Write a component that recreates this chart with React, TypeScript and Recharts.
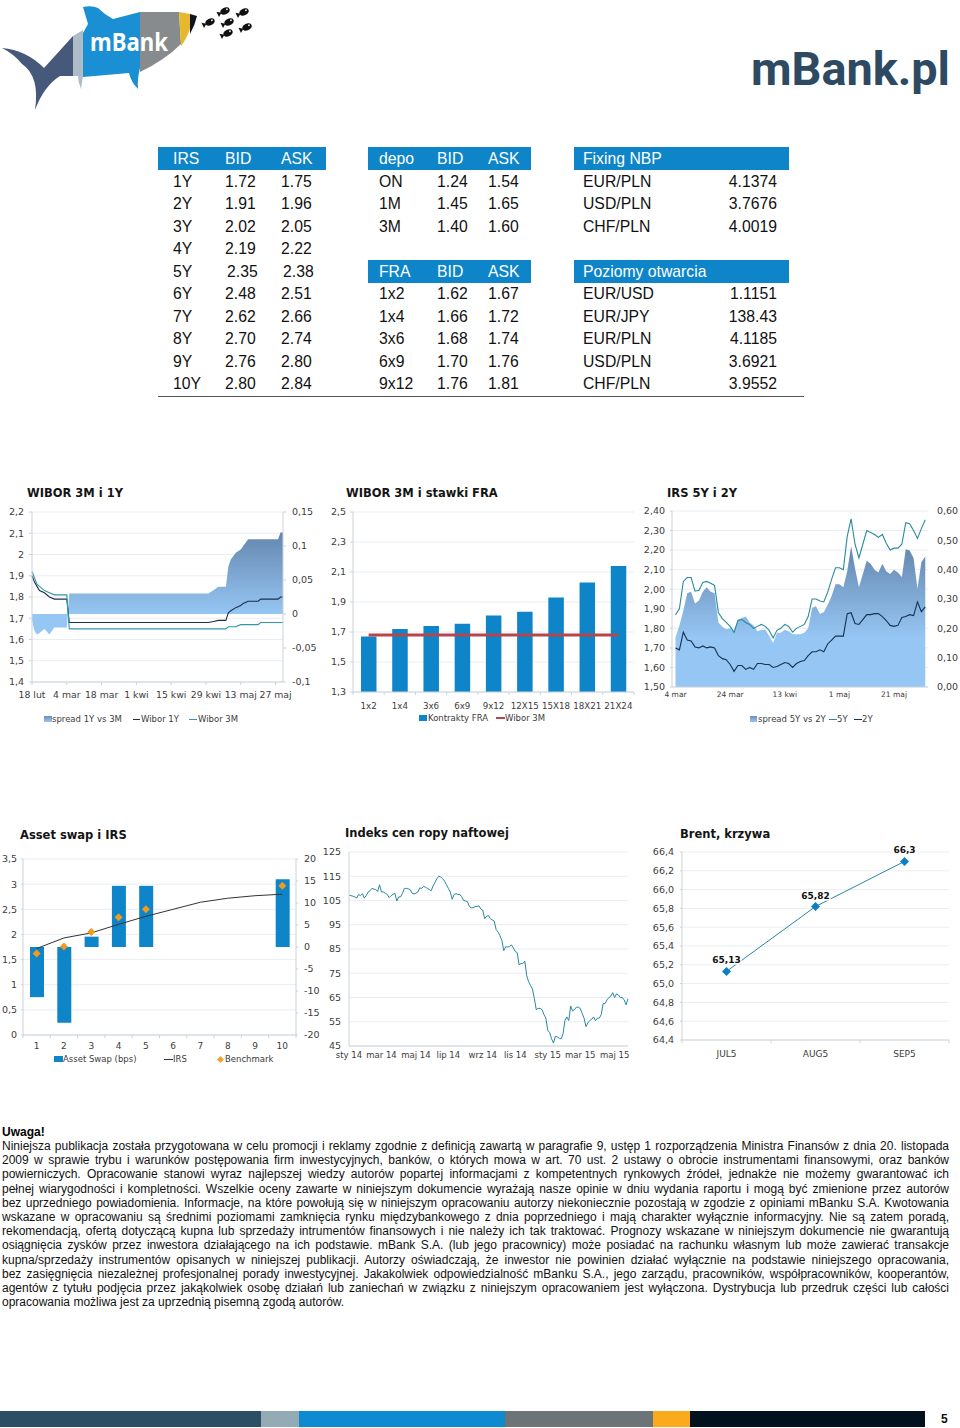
import React from "react";
import {
  ComposedChart, Area, Bar, Line, LabelList, XAxis, YAxis, CartesianGrid,
} from "recharts";

/* ---------- tables ---------- */
const irsHeader = ["IRS", "BID", "ASK"];
const irsRows = [
  ["1Y", "1.72", "1.75"], ["2Y", "1.91", "1.96"], ["3Y", "2.02", "2.05"], ["4Y", "2.19", "2.22"],
  ["5Y", "2.35", "2.38"], ["6Y", "2.48", "2.51"], ["7Y", "2.62", "2.66"], ["8Y", "2.70", "2.74"],
  ["9Y", "2.76", "2.80"], ["10Y", "2.80", "2.84"],
];
const depoHeader = ["depo", "BID", "ASK"];
const depoRows = [["ON", "1.24", "1.54"], ["1M", "1.45", "1.65"], ["3M", "1.40", "1.60"]];
const fraHeader = ["FRA", "BID", "ASK"];
const fraRows = [
  ["1x2", "1.62", "1.67"], ["1x4", "1.66", "1.72"], ["3x6", "1.68", "1.74"],
  ["6x9", "1.70", "1.76"], ["9x12", "1.76", "1.81"],
];
const fixingRows = [["EUR/PLN", "4.1374"], ["USD/PLN", "3.7676"], ["CHF/PLN", "4.0019"]];
const openRows = [
  ["EUR/USD", "1.1151"], ["EUR/JPY", "138.43"], ["EUR/PLN", "4.1185"],
  ["USD/PLN", "3.6921"], ["CHF/PLN", "3.9552"],
];

/* ---------- chart 1: WIBOR 3M i 1Y ---------- */
const w1Days = [0, 1, 2, 3, 5, 7, 9, 14, 15, 71, 73, 75, 78, 79, 80, 82, 84, 85, 87, 91, 92, 99, 100, 101];
const w1Y = [1.9, 1.87, 1.85, 1.83, 1.82, 1.8, 1.79, 1.79, 1.68, 1.68, 1.685, 1.69, 1.69, 1.725, 1.735, 1.75, 1.76, 1.77, 1.78, 1.78, 1.79, 1.79, 1.8, 1.8];
const w3M = [1.92, 1.89, 1.86, 1.85, 1.83, 1.82, 1.81, 1.81, 1.65, 1.65, 1.65, 1.65, 1.65, 1.66, 1.66, 1.66, 1.67, 1.67, 1.67, 1.67, 1.68, 1.68, 1.68, 1.68];
const wSpread = [-0.01, -0.025, -0.03, -0.028, -0.022, -0.03, -0.02, -0.02, 0.03, 0.03, 0.035, 0.04, 0.04, 0.07, 0.08, 0.09, 0.095, 0.1, 0.11, 0.11, 0.11, 0.11, 0.12, 0.12];
const w1XTicks = [0, 14, 28, 42, 56, 70, 84, 98];
const w1XLabels = ["18 lut", "4 mar", "18 mar", "1 kwi", "15 kwi", "29 kwi", "13 maj", "27 maj"];
const w1LeftTicks = [1.4, 1.5, 1.6, 1.7, 1.8, 1.9, 2, 2.1, 2.2];
const w1RightTicks = [-0.1, -0.05, 0, 0.05, 0.1, 0.15];

/* ---------- chart 2: WIBOR 3M i stawki FRA ---------- */
const fraCats = ["1x2", "1x4", "3x6", "6x9", "9x12", "12X15", "15X18", "18X21", "21X24"];
const fraVals = [1.67, 1.72, 1.74, 1.755, 1.81, 1.835, 1.93, 2.03, 2.14];
const fraWibor = [1.68, 1.68, 1.68, 1.68, 1.68, 1.68, 1.68, 1.68, 1.68];
const fraTicks = [1.3, 1.5, 1.7, 1.9, 2.1, 2.3, 2.5];

/* ---------- chart 3: IRS 5Y i 2Y ---------- */
const irs5Y = [1.87, 1.9, 2.04, 2.06, 2.06, 1.99, 1.995, 2.035, 2.04, 2.03, 2.02, 1.88, 1.85, 1.83, 1.81, 1.78, 1.84, 1.845, 1.83, 1.82, 1.8, 1.81, 1.82, 1.81, 1.79, 1.75, 1.79, 1.8, 1.82, 1.81, 1.78, 1.8, 1.81, 1.82, 1.86, 1.95, 1.95, 1.94, 1.935, 1.985, 2.05, 2.11, 2.11, 2.1, 2.27, 2.36, 2.23, 2.16, 2.23, 2.3, 2.29, 2.28, 2.265, 2.28, 2.235, 2.2, 2.21, 2.21, 2.23, 2.34, 2.335, 2.3, 2.26, 2.31, 2.355];
const irs2Y = [1.7, 1.69, 1.78, 1.74, 1.735, 1.705, 1.7, 1.71, 1.7, 1.705, 1.7, 1.66, 1.645, 1.64, 1.615, 1.58, 1.61, 1.61, 1.59, 1.6, 1.59, 1.62, 1.62, 1.615, 1.615, 1.6, 1.605, 1.615, 1.625, 1.62, 1.6, 1.62, 1.63, 1.635, 1.66, 1.68, 1.68, 1.69, 1.68, 1.72, 1.74, 1.76, 1.76, 1.76, 1.875, 1.88, 1.825, 1.82, 1.845, 1.87, 1.87, 1.875, 1.875, 1.86, 1.84, 1.815, 1.81, 1.815, 1.855, 1.86, 1.87, 1.865, 1.935, 1.885, 1.91];
const irsSpread = [0.17, 0.21, 0.26, 0.32, 0.325, 0.285, 0.295, 0.325, 0.34, 0.325, 0.32, 0.22, 0.205, 0.197, 0.2, 0.19, 0.23, 0.235, 0.24, 0.22, 0.21, 0.19, 0.195, 0.195, 0.175, 0.15, 0.185, 0.185, 0.195, 0.19, 0.18, 0.18, 0.18, 0.185, 0.2, 0.27, 0.275, 0.25, 0.255, 0.28, 0.31, 0.35, 0.35, 0.34, 0.395, 0.48, 0.405, 0.34, 0.385, 0.43, 0.42, 0.4, 0.39, 0.42, 0.395, 0.385, 0.4, 0.39, 0.375, 0.47, 0.465, 0.44, 0.335, 0.425, 0.445];
const irsXTicks = [0, 14, 28, 42, 56];
const irsXLabels = ["4 mar", "24 mar", "13 kwi", "1 maj", "21 maj"];
const irsLeftTicks = [1.5, 1.6, 1.7, 1.8, 1.9, 2.0, 2.1, 2.2, 2.3, 2.4];
const irsRightTicks = [0, 0.1, 0.2, 0.3, 0.4, 0.5, 0.6];

/* ---------- chart 4: Asset swap i IRS ---------- */
const asCats = ["1", "2", "3", "4", "5", "6", "7", "8", "9", "10"];
const asSwap = [-11.4, -17.2, 2.35, 13.9, 13.9, null, null, null, null, 15.4];
const asIrs = [1.72, 1.93, 2.03, 2.2, 2.36, 2.5, 2.64, 2.72, 2.77, 2.8];
const asBench = [1.62, 1.76, 2.05, 2.34, 2.5, null, null, null, null, 2.97];
const asLeftTicks = [0, 0.5, 1, 1.5, 2, 2.5, 3, 3.5];
const asRightTicks = [-20, -15, -10, -5, 0, 5, 10, 15, 20];

/* ---------- chart 5: Indeks cen ropy naftowej ---------- */
const oil = [107.3, 107, 106.8, 106.5, 106, 107.5, 107, 107.8, 106, 107, 108.5, 109, 110, 109.7, 109.5, 108.8, 111.5, 108.5, 108.5, 108, 107.5, 106.2, 107, 107.5, 108, 104.8, 106.5, 106.5, 108, 110, 110, 109.8, 109.5, 108, 107.7, 108, 108.5, 110.2, 110, 110.8, 110.5, 110, 109.5, 109, 111, 112.5, 114, 115, 114.7, 114, 113, 111.5, 110, 108.5, 105.5, 107.5, 107.8, 107.5, 107.5, 106.5, 105, 104.8, 104.5, 102.5, 102, 102, 102.5, 102.5, 102.8, 101.5, 101, 97.5, 98.5, 98.8, 97.5, 97, 96.5, 93, 92, 90.5, 88.5, 84.3, 86, 85.8, 86, 86.7, 85.5, 84, 83.5, 78.5, 79, 79, 80, 74, 71.5, 70, 68.5, 64.5, 60, 60.5, 60.5, 60, 58, 56.5, 51.5, 50.5, 48, 46.2, 49, 48.8, 48.2, 48, 50, 55.5, 57, 55.5, 61.5, 59.5, 60, 61, 61, 60.5, 58.5, 56.5, 53, 54.5, 55.5, 56, 57, 55.5, 56.5, 56.5, 58, 62.5, 62.5, 64, 65, 65.5, 67, 65, 66.5, 66, 65, 65, 64, 62, 64.5];
const oilXTicks = [0, 17, 35, 52, 70, 87, 104, 121, 139];
const oilXLabels = ["sty 14", "mar 14", "maj 14", "lip 14", "wrz 14", "lis 14", "sty 15", "mar 15", "maj 15"];
const oilYTicks = [45, 55, 65, 75, 85, 95, 105, 115, 125];

/* ---------- chart 6: Brent, krzywa ---------- */
const brentCats = ["JUL5", "AUG5", "SEP5"];
const brentVals = [65.13, 65.82, 66.3];
const brentTicks = [64.4, 64.6, 64.8, 65.0, 65.2, 65.4, 65.6, 65.8, 66.0, 66.2, 66.4];

/* ---------- text ---------- */
const disclaimerLines = [
  "Niniejsza publikacja została przygotowana w celu promocji i reklamy zgodnie z definicją zawartą w paragrafie 9, ustęp 1 rozporządzenia Ministra Finansów z dnia 20. listopada",
  "2009 w sprawie trybu i warunków postępowania firm inwestycyjnych, banków, o których mowa w art. 70 ust. 2 ustawy o obrocie instrumentami finansowymi, oraz banków",
  "powierniczych. Opracowanie stanowi wyraz najlepszej wiedzy autorów popartej informacjami z kompetentnych rynkowych źródeł, jednakże nie możemy gwarantować ich",
  "pełnej wiarygodności i kompletności. Wszelkie oceny zawarte w niniejszym dokumencie wyrażają nasze opinie w dniu wydania raportu i mogą być zmienione przez autorów",
  "bez uprzedniego powiadomienia. Informacje, na które powołują się w niniejszym opracowaniu autorzy niekoniecznie pozostają w zgodzie z opiniami mBanku S.A. Kwotowania",
  "wskazane w opracowaniu są średnimi poziomami zamknięcia rynku międzybankowego z dnia poprzedniego i mają charakter wyłącznie informacyjny. Nie są zatem poradą,",
  "rekomendacją, ofertą dotyczącą kupna lub sprzedaży intrumentów finansowych i nie należy ich tak traktować. Prognozy wskazane w niniejszym dokumencie nie gwarantują",
  "osiągnięcia zysków przez inwestora działającego na ich podstawie. mBank S.A. (lub jego pracownicy) może posiadać na rachunku własnym lub może zawierać transakcje",
  "kupna/sprzedaży instrumentów opisanych w niniejszej publikacji. Autorzy oświadczają, że inwestor nie powinien działać wyłącznie na podstawie niniejszego opracowania,",
  "bez zasięgnięcia niezależnej profesjonalnej porady inwestycyjnej. Jakakolwiek odpowiedzialność mBanku S.A., jego zarządu, pracowników, współpracowników, kooperantów,",
  "agentów z tytułu podjęcia przez jakąkolwiek osobę działań lub zaniechań w związku z niniejszym opracowaniem jest wyłączona. Dystrybucja lub przedruk części lub całości",
  "opracowania możliwa jest za uprzednią pisemną zgodą autorów.",
];
const footerSegments = [
  ["#2c4f66", 261], ["#92abb4", 38], ["#0d8ad0", 206], ["#6d7478", 148], ["#fba91d", 37], ["#02111d", 235],
];

/* ---------- helpers ---------- */
const VERDANA = "'DejaVu Sans', sans-serif";
const ARIAL = "'Liberation Sans', Arial, sans-serif";
const BLUE = "#0d85c8";
const GRID = "#e9eef3";
const AXIS = "#cbd3da";
const TICK = { fontSize: 9.5, fill: "#3c3c3c", fontFamily: VERDANA };
const comma = (v: number, d?: number) => (d === undefined ? String(v) : v.toFixed(d)).replace(".", ",");

const abs = (left: number, top: number, extra: React.CSSProperties = {}): React.CSSProperties => ({
  position: "absolute", left, top, ...extra,
});

function Cell({ x, y, text, color = "#111", right }: { x: number; y: number; text: string; color?: string; right?: boolean }) {
  const style = abs(right ? x - 100 : x, y - 11, {
    width: right ? 100 : undefined, textAlign: right ? "right" : "left", lineHeight: "22px",
    fontFamily: ARIAL, fontSize: 15.75, color, whiteSpace: "nowrap",
  });
  return <div style={style}>{text}</div>;
}

const rowY = (i: number) => 182 + 22.45 * i;

function Band({ x, w, y, h = 23 }: { x: number; w: number; y: number; h?: number }) {
  return <div style={abs(x, y, { width: w, height: h, background: BLUE })} />;
}

function Title({ x, y, text }: { x: number; y: number; text: string }) {
  return (
    <div style={abs(x, y - 8, { fontFamily: VERDANA, fontWeight: 700, fontSize: 11.5, lineHeight: "16px", color: "#141414", whiteSpace: "nowrap" })}>
      {text}
    </div>
  );
}

type LegendItem = { kind: "box" | "line" | "diamond"; color: string; x0: number; x1: number; text: string; tx: number; thick?: boolean; grad?: boolean };

function LegendRow({ y, items }: { y: number; items: LegendItem[] }) {
  return (
    <>
      {items.map((it) => (
        <React.Fragment key={it.text}>
          {it.kind === "box" && (
            <div style={abs(it.x0, y - 3, { width: it.x1 - it.x0, height: 6, background: it.grad ? "linear-gradient(#6c8fb8,#96c6f4)" : it.color })} />
          )}
          {it.kind === "line" && (
            <div style={abs(it.x0, y - (it.thick ? 1 : 0.5), { width: it.x1 - it.x0, height: it.thick ? 2 : 1, background: it.color })} />
          )}
          {it.kind === "diamond" && (
            <div style={abs(it.x0, y - 2.5, { width: 5, height: 5, background: it.color, transform: "rotate(45deg)" })} />
          )}
          <div style={abs(it.tx, y - 7, { fontFamily: VERDANA, fontSize: 8.5, lineHeight: "14px", color: "#3c3c3c", whiteSpace: "nowrap" })}>{it.text}</div>
        </React.Fragment>
      ))}
    </>
  );
}

/* category tick with its tick mark on the boundary between two categories */
function boundaryTick(band: number, fontSize: number, labelGap: number) {
  return (p: any) => (
    <g>
      <line x1={p.x - band / 2} x2={p.x - band / 2} y1={p.y} y2={p.y + 3} stroke={AXIS} />
      {p.index === p.visibleTicksCount - 1 && <line x1={p.x + band / 2} x2={p.x + band / 2} y1={p.y} y2={p.y + 3} stroke={AXIS} />}
      <text x={p.x} y={p.y + labelGap} textAnchor="middle" fontSize={fontSize} fill="#3c3c3c" fontFamily={VERDANA}>
        {p.payload.value}
      </text>
    </g>
  );
}

const Diamond = (size: number, fill: string) => (p: any) => {
  if (p.cy == null || p.value == null) return <g key={p.key} />;
  const { cx, cy } = p;
  return <path key={p.key} d={`M${cx} ${cy - size}L${cx + size} ${cy}L${cx} ${cy + size}L${cx - size} ${cy}Z`} fill={fill} />;
};

function Grad({ id, mid }: { id: string; mid: number }) {
  return (
    <defs>
      <linearGradient id={id} x1="0" y1="0" x2="0" y2="1">
        <stop offset="0%" stopColor="#6487ae" />
        <stop offset={`${mid}%`} stopColor="#96c6f4" />
        <stop offset="100%" stopColor="#96c6f4" />
      </linearGradient>
    </defs>
  );
}

/* ---------- charts ---------- */
function ChartWibor() {
  const data = w1Days.map((d, i) => ({ d, spread: wSpread[i], y1: w1Y[i], m3: w3M[i] }));
  return (
    <div style={abs(0, 500)}>
      <ComposedChart width={320} height={205} data={data} margin={{ top: 12, right: 0, bottom: 0, left: 0 }}>
        <Grad id="g1" mid={80} />
        <CartesianGrid vertical={false} stroke={GRID} yAxisId="l" />
        <XAxis dataKey="d" type="number" domain={[0, 101]} ticks={w1XTicks} interval={0} height={23} tick={{ ...TICK, fontSize: 9.3 }}
          tickFormatter={(v: number) => w1XLabels[w1XTicks.indexOf(v)]} stroke={AXIS} tickSize={3} tickMargin={6} />
        <YAxis yAxisId="l" width={32} domain={[1.4, 2.2]} ticks={w1LeftTicks} interval={0} tick={TICK} stroke={AXIS} tickSize={3} tickMargin={5}
          tickFormatter={(v: number) => comma(v)} />
        <YAxis yAxisId="r" orientation="right" width={37} domain={[-0.1, 0.15]} ticks={w1RightTicks} interval={0} tick={TICK} stroke={AXIS} tickSize={3} tickMargin={6}
          tickFormatter={(v: number) => comma(v)} />
        <Area yAxisId="r" dataKey="spread" type="linear" fill="url(#g1)" fillOpacity={1} stroke="none" isAnimationActive={false} />
        <Line yAxisId="l" dataKey="y1" type="linear" stroke="#1d2f45" strokeWidth={1.1} dot={false} isAnimationActive={false} />
        <Line yAxisId="l" dataKey="m3" type="linear" stroke="#2f97a8" strokeWidth={1.1} dot={false} isAnimationActive={false} />
      </ComposedChart>
    </div>
  );
}

function ChartFra() {
  const data = fraCats.map((c, i) => ({ c, v: fraVals[i], w: fraWibor[i] }));
  return (
    <div style={abs(325, 500)}>
      <ComposedChart width={315} height={220} data={data} margin={{ top: 12, right: 6, bottom: 0, left: 0 }}>
        <CartesianGrid vertical={false} stroke={GRID} />
        <XAxis dataKey="c" interval={0} height={28} stroke={AXIS} tickLine={false} tickSize={0} tickMargin={0} tick={boundaryTick(31.2, 8.7, 16.5)} />
        <YAxis width={28} domain={[1.3, 2.5]} ticks={fraTicks} interval={0} tick={TICK} stroke={AXIS} tickSize={3} tickMargin={4}
          tickFormatter={(v: number) => comma(v)} />
        <Bar dataKey="v" fill={BLUE} barSize={15.5} isAnimationActive={false} />
        <Line dataKey="w" stroke="#b5474b" strokeWidth={3} dot={false} isAnimationActive={false} />
      </ComposedChart>
    </div>
  );
}

function ChartIrs() {
  const data = irs5Y.map((v, i) => ({ i, y5: v, y2: irs2Y[i], spread: irsSpread[i] }));
  return (
    <div style={abs(640, 500)}>
      <ComposedChart width={320} height={205} data={data} margin={{ top: 11, right: 0, bottom: 0, left: 0 }}>
        <Grad id="g3" mid={65} />
        <CartesianGrid vertical={false} stroke={GRID} yAxisId="l" />
        <XAxis dataKey="i" type="number" domain={[-0.9, 64.7]} ticks={irsXTicks} interval={0} height={18} tick={{ ...TICK, fontSize: 7.5 }}
          tickFormatter={(v: number) => irsXLabels[irsXTicks.indexOf(v)]} stroke={AXIS} tickLine={false} tickSize={0} tickMargin={5} />
        <YAxis yAxisId="l" width={32} domain={[1.5, 2.4]} ticks={irsLeftTicks} interval={0} tick={TICK} stroke={AXIS} tickSize={2} tickMargin={5}
          tickFormatter={(v: number) => comma(v, 2)} />
        <YAxis yAxisId="r" orientation="right" width={32} domain={[0, 0.6]} ticks={irsRightTicks} interval={0} tick={TICK} axisLine={false} tickLine={false} tickSize={0} tickMargin={9}
          tickFormatter={(v: number) => comma(v, 2)} />
        <Area yAxisId="r" dataKey="spread" type="linear" fill="url(#g3)" fillOpacity={1} stroke="none" isAnimationActive={false} />
        <Line yAxisId="l" dataKey="y5" type="linear" stroke="#2a8a9c" strokeWidth={1.1} dot={false} isAnimationActive={false} />
        <Line yAxisId="l" dataKey="y2" type="linear" stroke="#16324f" strokeWidth={1.1} dot={false} isAnimationActive={false} />
      </ComposedChart>
    </div>
  );
}

function ChartAsset() {
  const data = asCats.map((c, i) => ({ c, swap: asSwap[i], irs: asIrs[i], bench: asBench[i] }));
  return (
    <div style={abs(0, 845)}>
      <ComposedChart width={330} height={210} data={data} margin={{ top: 14, right: 0, bottom: 0, left: 0 }}>
        <CartesianGrid vertical={false} stroke={GRID} yAxisId="l" />
        <XAxis dataKey="c" interval={0} height={20} stroke={AXIS} tickLine={false} tickSize={0} tickMargin={0} tick={boundaryTick(27.3, 9, 14)} />
        <YAxis yAxisId="l" width={23} domain={[0, 3.5]} ticks={asLeftTicks} interval={0} tick={TICK} stroke={AXIS} tickSize={2} tickMargin={4}
          tickFormatter={(v: number) => comma(v)} />
        <YAxis yAxisId="r" orientation="right" width={34} domain={[-20, 20]} ticks={asRightTicks} interval={0} tick={TICK} stroke={AXIS} tickSize={2} tickMargin={6} />
        <Bar yAxisId="r" dataKey="swap" fill={BLUE} barSize={14} isAnimationActive={false} />
        <Line yAxisId="l" dataKey="irs" stroke="#333" strokeWidth={1} dot={false} isAnimationActive={false} />
        <Line yAxisId="l" dataKey="bench" stroke="none" dot={Diamond(4, "#f09a1e")} activeDot={false} isAnimationActive={false} />
      </ComposedChart>
    </div>
  );
}

function ChartOil() {
  const data = oil.map((v, i) => ({ i, v }));
  return (
    <div style={abs(320, 840)}>
      <ComposedChart width={315} height={230} data={data} margin={{ top: 12, right: 7, bottom: 0, left: 0 }}>
        <CartesianGrid vertical={false} stroke={GRID} />
        <XAxis dataKey="i" type="number" domain={[0, 146]} ticks={oilXTicks} interval={0} height={24} tick={{ ...TICK, fontSize: 8.5 }}
          tickFormatter={(v: number) => oilXLabels[oilXTicks.indexOf(v)]} stroke={AXIS} tickLine={false} tickSize={0} tickMargin={6} />
        <YAxis width={29} domain={[45, 125]} ticks={oilYTicks} interval={0} tick={TICK} stroke={AXIS} tickLine={false} tickSize={0} tickMargin={8} />
        <Line dataKey="v" stroke="#2a86a4" strokeWidth={1} dot={false} isAnimationActive={false} />
      </ComposedChart>
    </div>
  );
}

function ChartBrent() {
  const data = brentCats.map((c, i) => ({ c, v: brentVals[i] }));
  const label = (p: any) => (
    <text x={p.x + (p.width || 0) / 2} y={p.y - 8} textAnchor="middle" fontSize={9} fontWeight={700} fill="#111" fontFamily={VERDANA}
      stroke="#fff" strokeWidth={3} paintOrder="stroke">
      {comma(p.value)}
    </text>
  );
  return (
    <div style={abs(640, 840)}>
      <ComposedChart width={320} height={220} data={data} margin={{ top: 12, right: 11, bottom: 0, left: 0 }}>
        <CartesianGrid vertical={false} stroke={GRID} />
        <XAxis dataKey="c" scale="band" interval={0} height={20} stroke={AXIS} tickLine={false} tickSize={0} tickMargin={0} tick={boundaryTick(89, 9, 16.5)} />
        <YAxis width={42} domain={[64.4, 66.4]} ticks={brentTicks} interval={0} tick={TICK} stroke={AXIS} tickSize={2} tickMargin={6}
          tickFormatter={(v: number) => comma(v, 1)} />
        <Line dataKey="v" stroke="#2a86a4" strokeWidth={1} dot={Diamond(4.5, "#0d7fc2")} activeDot={false} isAnimationActive={false}>
          <LabelList dataKey="v" content={label} />
        </Line>
      </ComposedChart>
    </div>
  );
}

function Fish({ x, y, r }: { x: number; y: number; r: number }) {
  return (
    <g transform={`translate(${x} ${y}) rotate(${r})`}>
      <ellipse cx="0" cy="0" rx="5" ry="3.4" fill="#111" />
      <path d="M-4 0L-8 -3L-8 3Z" fill="#111" />
      <circle cx="2.5" cy="-0.8" r="0.9" fill="#fff" />
    </g>
  );
}

function Header() {
  return (
    <svg width={960} height={120} style={abs(0, 0)}>
      <path d="M2 48Q26 50 44 68L73 36L73 76L60 76Q44 86 35 110Q40 76 22 64Q14 54 2 48Z" fill="#47597a" />
      <path d="M73 36L83 30L83 76L81 89Q78 82 78 76L73 76Z" fill="#aebcc7" />
      <path d="M83 7Q92 5 98 8Q105 15 113 19L140 12L140 68Q137 80 138 89Q131 82 129 73L83 77L83 33L88 24Z" fill="#1a8fd4" />
      <path d="M140 12L179 12L181 44Q165 60 140 72Z" fill="#888b8d" />
      <path d="M179 12L190 14L190 29Q186 40 181 46Z" fill="#e6b92c" />
      <path d="M190 14L197 16Q195 25 190 34Z" fill="#10151c" />
      <text x={90} y={51} fontFamily="'Noto Sans', sans-serif" fontWeight={700} fontSize={25} fill="#fff" textLength={78} lengthAdjust="spacingAndGlyphs">mBank</text>
      <Fish x={225} y={11} r={-25} />
      <Fish x={244} y={12} r={-25} />
      <Fish x={210} y={22} r={-25} />
      <Fish x={229} y={22} r={-25} />
      <Fish x={247} y={27} r={-25} />
      <Fish x={228} y={33} r={-25} />
      <text x={751} y={85} fontFamily="'Roboto', sans-serif" fontWeight={700} fontSize={47} fill="#2d4a62" textLength={199} lengthAdjust="spacingAndGlyphs">mBank.pl</text>
    </svg>
  );
}

function Tables() {
  const xIrs = [173, 225, 281];
  const xDepo = [379, 437, 488];
  return (
    <>
      <Band x={158} w={168} y={147} />
      <Band x={368} w={163} y={147} />
      <Band x={574} w={215} y={147} />
      <Band x={368} w={163} y={260} />
      <Band x={574} w={215} y={260} />
      <div style={abs(158, 395.5, { width: 646, height: 1, background: "#555" })} />
      {irsHeader.map((t, i) => <Cell key={t} x={xIrs[i]} y={159.3} text={t} color="#fff" />)}
      {irsRows.map((r, ri) => r.map((t, ci) => (
        <Cell key={`${ri}-${ci}`} x={xIrs[ci] + (ri === 4 && ci > 0 ? 2 : 0)} y={rowY(ri)} text={t} />
      )))}
      {depoHeader.map((t, i) => <Cell key={t} x={xDepo[i]} y={159.3} text={t} color="#fff" />)}
      {depoRows.map((r, ri) => r.map((t, ci) => <Cell key={`d${ri}-${ci}`} x={xDepo[ci]} y={rowY(ri)} text={t} />))}
      {fraHeader.map((t, i) => <Cell key={`f${t}`} x={xDepo[i]} y={272} text={t} color="#fff" />)}
      {fraRows.map((r, ri) => r.map((t, ci) => <Cell key={`f${ri}-${ci}`} x={xDepo[ci]} y={rowY(ri + 5)} text={t} />))}
      <Cell x={583} y={159.3} text="Fixing NBP" color="#fff" />
      {fixingRows.map((r, ri) => (
        <React.Fragment key={`n${ri}`}>
          <Cell x={583} y={rowY(ri)} text={r[0]} />
          <Cell x={777} y={rowY(ri)} text={r[1]} right />
        </React.Fragment>
      ))}
      <Cell x={583} y={272} text="Poziomy otwarcia" color="#fff" />
      {openRows.map((r, ri) => (
        <React.Fragment key={`o${ri}`}>
          <Cell x={583} y={rowY(ri + 5)} text={r[0]} />
          <Cell x={777} y={rowY(ri + 5)} text={r[1]} right />
        </React.Fragment>
      ))}
    </>
  );
}

function Disclaimer() {
  return (
    <>
      <div style={abs(2, 1124.5, { fontFamily: ARIAL, fontWeight: 700, fontSize: 12, lineHeight: "14px", color: "#000" })}>Uwaga!</div>
      {disclaimerLines.map((l, i) => (
        <div key={i} style={abs(2, 1139 + 14.2 * i, {
          width: 947, fontFamily: ARIAL, fontSize: 12, lineHeight: "14px", color: "#111",
          whiteSpace: "nowrap", textAlign: "justify", textAlignLast: i === disclaimerLines.length - 1 ? "left" : "justify",
        })}>{l}</div>
      ))}
    </>
  );
}

function Footer() {
  let x = 0;
  return (
    <>
      {footerSegments.map(([c, w]) => {
        const left = x;
        x += w as number;
        return <div key={c as string} style={abs(left, 1411, { width: w as number, height: 16, background: c as string })} />;
      })}
      <div style={abs(941, 1412, { fontFamily: ARIAL, fontWeight: 700, fontSize: 12, lineHeight: "14px", color: "#111" })}>5</div>
    </>
  );
}

export default function App() {
  return (
    <div style={{ position: "absolute", left: 0, top: 0, width: 960, height: 1428, background: "#fff", overflow: "hidden" }}>
      <Header />
      <Tables />

      <Title x={27} y={493} text="WIBOR 3M i 1Y" />
      <ChartWibor />
      <LegendRow y={719} items={[
        { kind: "box", color: "#7da8d6", grad: true, x0: 44, x1: 52, text: "spread 1Y vs 3M", tx: 52 },
        { kind: "line", color: "#1d2f45", x0: 133, x1: 140, text: "Wibor 1Y", tx: 141 },
        { kind: "line", color: "#2f97a8", x0: 189, x1: 197, text: "Wibor 3M", tx: 198 },
      ]} />

      <Title x={346} y={493} text="WIBOR 3M i stawki FRA" />
      <ChartFra />
      <LegendRow y={718} items={[
        { kind: "box", color: BLUE, x0: 419, x1: 427, text: "Kontrakty FRA", tx: 428 },
        { kind: "line", color: "#b5474b", thick: true, x0: 496, x1: 505, text: "Wibor 3M", tx: 505 },
      ]} />

      <Title x={667} y={493} text="IRS 5Y i 2Y" />
      <ChartIrs />
      <LegendRow y={719} items={[
        { kind: "box", color: "#7da8d6", grad: true, x0: 750, x1: 757, text: "spread 5Y vs 2Y", tx: 758 },
        { kind: "line", color: "#2a8a9c", x0: 829, x1: 837, text: "5Y", tx: 837 },
        { kind: "line", color: "#16324f", x0: 854, x1: 862, text: "2Y", tx: 862 },
      ]} />

      <Title x={20} y={835} text="Asset swap i IRS" />
      <ChartAsset />
      <LegendRow y={1059} items={[
        { kind: "box", color: BLUE, x0: 54, x1: 63, text: "Asset Swap (bps)", tx: 63 },
        { kind: "line", color: "#333", x0: 164, x1: 173, text: "IRS", tx: 173 },
        { kind: "diamond", color: "#f0a43a", x0: 218, x1: 223, text: "Benchmark", tx: 225 },
      ]} />

      <Title x={345} y={833} text="Indeks cen ropy naftowej" />
      <ChartOil />

      <Title x={680} y={834} text="Brent, krzywa" />
      <ChartBrent />

      <Disclaimer />
      <Footer />
    </div>
  );
}
